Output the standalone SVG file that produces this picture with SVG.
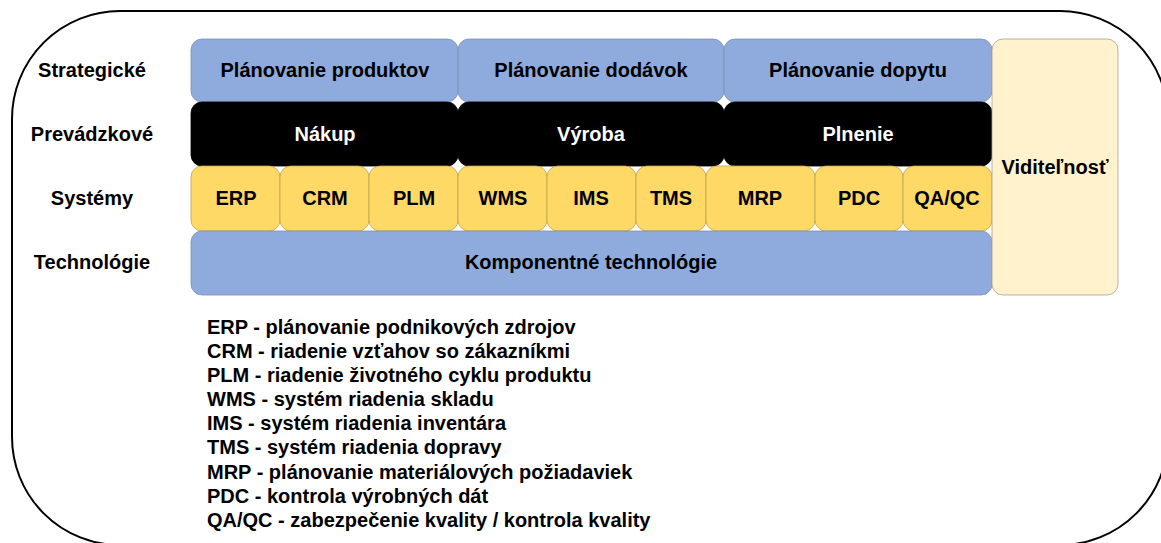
<svg xmlns="http://www.w3.org/2000/svg" width="1161" height="543" viewBox="0 0 1161 543">
<style>
text{font-family:"Liberation Sans",Arial,sans-serif;font-weight:bold;font-size:20px;fill:#000}
.c{text-anchor:middle}
.w{fill:#fff}
.blue{fill:#8FAADC;stroke:#7F8FAF;stroke-width:0.8}
.blk{fill:#000;stroke:#000;stroke-width:0.8}
.yel{fill:#FFD966;stroke:#BFA250;stroke-width:0.8}
.vis{fill:#FFF2CC;stroke:#A8A090;stroke-width:0.8}
.lg text{font-size:20px}
</style>
<rect id="frame" x="12" y="11" width="1156" height="534" rx="108" ry="108" fill="#fff" stroke="#000" stroke-width="2"/>
<g id="row-labels">
<text class="c" x="92" y="77">Strategické</text>
<text class="c" x="92" y="141">Prevádzkové</text>
<text class="c" x="92" y="205">Systémy</text>
<text class="c" x="92" y="269">Technológie</text>
</g>
<g id="n-plan-prod"><rect class="blue" x="191" y="39" width="267" height="63" rx="11"/><text class="c" x="325" y="77">Plánovanie produktov</text></g>
<g id="n-plan-dod"><rect class="blue" x="458" y="39" width="266" height="63" rx="11"/><text class="c" x="591" y="77">Plánovanie dodávok</text></g>
<g id="n-plan-dop"><rect class="blue" x="724" y="39" width="268" height="63" rx="11"/><text class="c" x="858" y="77">Plánovanie dopytu</text></g>
<g id="n-nakup"><rect class="blk" x="191" y="102" width="267" height="64" rx="11"/><text class="c w" x="325" y="141">Nákup</text></g>
<g id="n-vyroba"><rect class="blk" x="458" y="102" width="266" height="64" rx="11"/><text class="c w" x="591" y="141">Výroba</text></g>
<g id="n-plnenie"><rect class="blk" x="724" y="102" width="268" height="64" rx="11"/><text class="c w" x="858" y="141">Plnenie</text></g>
<g id="n-erp"><rect class="yel" x="191" y="166" width="89" height="65" rx="11"/><text class="c" x="236" y="205">ERP</text></g>
<g id="n-crm"><rect class="yel" x="280" y="166" width="89" height="65" rx="11"/><text class="c" x="325" y="205">CRM</text></g>
<g id="n-plm"><rect class="yel" x="369" y="166" width="89" height="65" rx="11"/><text class="c" x="414" y="205">PLM</text></g>
<g id="n-wms"><rect class="yel" x="458" y="166" width="89" height="65" rx="11"/><text class="c" x="503" y="205">WMS</text></g>
<g id="n-ims"><rect class="yel" x="547" y="166" width="89" height="65" rx="11"/><text class="c" x="591" y="205">IMS</text></g>
<g id="n-tms"><rect class="yel" x="636" y="166" width="70" height="65" rx="11"/><text class="c" x="671" y="205">TMS</text></g>
<g id="n-mrp"><rect class="yel" x="706" y="166" width="109" height="65" rx="11"/><text class="c" x="760" y="205">MRP</text></g>
<g id="n-pdc"><rect class="yel" x="815" y="166" width="88" height="65" rx="11"/><text class="c" x="859" y="205">PDC</text></g>
<g id="n-qaqc"><rect class="yel" x="903" y="166" width="89" height="65" rx="11"/><text class="c" x="947" y="205">QA/QC</text></g>
<g id="n-tech"><rect class="blue" x="191" y="231" width="801" height="64" rx="11"/><text class="c" x="591" y="269">Komponentné technológie</text></g>
<g id="n-vis"><rect class="vis" x="992" y="39" width="126" height="256" rx="11"/><text class="c" x="1055" y="174">Viditeľnosť</text></g>
<g id="connectors"></g>
<g id="legend" class="lg">
<text x="207" y="334">ERP - plánovanie podnikových zdrojov</text>
<text x="207" y="358">CRM - riadenie vzťahov so zákazníkmi</text>
<text x="207" y="382">PLM - riadenie životného cyklu produktu</text>
<text x="207" y="406">WMS - systém riadenia skladu</text>
<text x="207" y="430">IMS - systém riadenia inventára</text>
<text x="207" y="454">TMS - systém riadenia dopravy</text>
<text x="207" y="479">MRP - plánovanie materiálových požiadaviek</text>
<text x="207" y="503">PDC - kontrola výrobných dát</text>
<text x="207" y="527">QA/QC - zabezpečenie kvality / kontrola kvality</text>
</g>
</svg>
